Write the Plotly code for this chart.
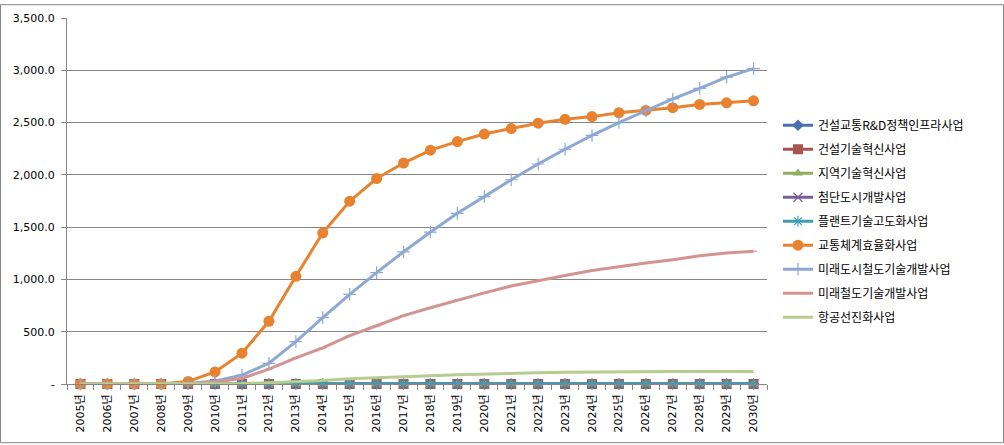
import plotly.graph_objects as go

years = [f"{y}년" for y in range(2005, 2031)]

names = ["건설교통R&D정책인프라사업", "건설기술혁신사업", "지역기술혁신사업", "첨단도시개발사업",
         "플랜트기술고도화사업", "교통체계효율화사업", "미래도시철도기술개발사업", "미래철도기술개발사업", "항공선진화사업"]

s_infra = [0] * 26
s_construct = [0] * 26
s_region = [0] * 26
s_city = [0] * 26
s_plant = [0] * 26
s_traffic = [0, 0, 0, 0, 25, 115, 295, 600, 1030, 1445, 1748, 1965, 2113, 2236, 2318, 2390,
             2443, 2494, 2531, 2557, 2594, 2616, 2642, 2673, 2689, 2708]
s_urbanrail = [0, 0, 0, 0, 5, 28, 85, 198, 405, 635, 858, 1065, 1264, 1453, 1632, 1792,
               1953, 2104, 2245, 2377, 2500, 2613, 2726, 2827, 2934, 3016]
s_rail = [0, 0, 0, 0, 3, 19, 54, 142, 250, 346, 462, 557, 654, 729, 802, 871,
          937, 991, 1038, 1085, 1123, 1158, 1189, 1226, 1252, 1270]
s_air = [0, 0, 0, 0, 0, 2, 5, 12, 22, 33, 50, 62, 72, 80, 89, 97,
         103, 108, 112, 115, 119, 120, 120, 120, 120, 120]

series = [s_infra, s_construct, s_region, s_city, s_plant, s_traffic, s_urbanrail, s_rail, s_air]
colors = ["#4A72AE", "#A8554F", "#8FAF5E", "#7A5F9C", "#3E9DB3", "#E8822E", "#8DA8D3", "#D39491", "#B6CD8F"]
symbols = ["diamond", "square", "triangle-up", "x-thin", "asterisk", "circle", "cross-thin", "line-ew", "line-ew"]
msizes = [9, 10, 9, 9, 9, 11, 9, 5, 0]

y_ticks = [0, 500, 1000, 1500, 2000, 2500, 3000, 3500]
y_labels = ["-", "500.0", "1,000.0", "1,500.0", "2,000.0", "2,500.0", "3,000.0", "3,500.0"]

fig = go.Figure()
for i, (n, s) in enumerate(zip(names, series)):
    sym = symbols[i]
    thin = sym in ("x-thin", "asterisk", "cross-thin", "line-ew")
    fig.add_trace(go.Scatter(
        x=years, y=s, name=n, mode="lines+markers" if msizes[i] > 0 else "lines",
        line=dict(color=colors[i], width=3),
        marker=dict(symbol=sym, size=msizes[i], color=colors[i],
                    line=dict(color=colors[i], width=1.2 if thin else 0)),
        legendgroup=f"g{i}", cliponaxis=False,
    ))

W, H = 1004, 445
L, R, T, B = 67, 237, 14, 60
pw, ph = W - L - R, H - T - B

fig.update_layout(
    width=W, height=H,
    margin=dict(l=L, r=R, t=T, b=B),
    paper_bgcolor="white", plot_bgcolor="white",
    font=dict(family="DejaVu Sans, Noto Sans CJK KR", size=11, color="#000000"),
    showlegend=True,
    legend=dict(
        x=(778 - L) / pw, xanchor="left",
        y=(H - B - 108) / ph, yanchor="top",
        font=dict(family="Noto Sans CJK KR", size=12, color="#000000"),
        tracegroupgap=5, itemwidth=30, bgcolor="rgba(0,0,0,0)",
    ),
    xaxis=dict(
        type="category", tickangle=-90, showgrid=False, showline=True, linecolor="#868686",
        ticks="outside", tickson="boundaries", ticklen=5, tickcolor="#868686",
        ticklabelstandoff=5,
        range=[-0.5, 25.5], tickfont=dict(family="DejaVu Sans, Noto Sans CJK KR", size=11),
    ),
    yaxis=dict(
        range=[0, 3500], tickvals=y_ticks, ticktext=y_labels, showgrid=True, gridcolor="#868686",
        gridwidth=1, showline=True, linecolor="#868686", ticks="outside", ticklen=5,
        tickcolor="#868686", zeroline=False, ticklabelstandoff=4,
        tickfont=dict(family="DejaVu Sans", size=11),
    ),
    shapes=[dict(type="rect", xref="paper", yref="paper",
                 x0=(0.5 - L) / pw, x1=(W - 0.5 - L) / pw,
                 y0=(H - B - (H - 0.5)) / ph, y1=(H - B - 0.5) / ph,
                 line=dict(color="#868686", width=1), layer="below")],
)

fig.write_html("out.html")
